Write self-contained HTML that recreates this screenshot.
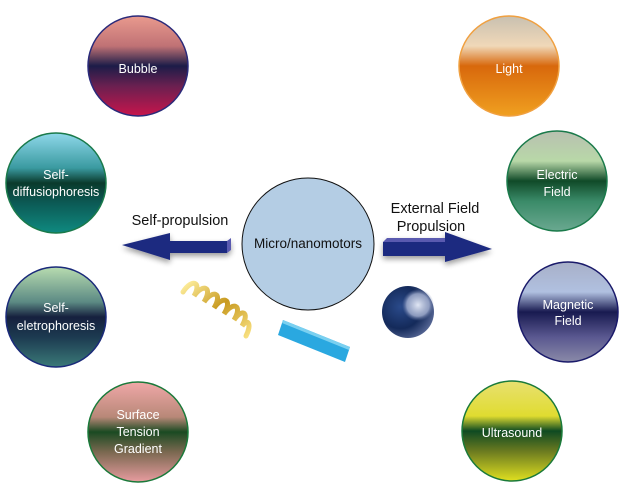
<!DOCTYPE html>
<html><head><meta charset="utf-8"><style>
html,body{margin:0;padding:0;background:#fff;}
svg{display:block;font-family:"Liberation Sans",sans-serif;}
</style></head><body>
<svg width="641" height="486" viewBox="0 0 641 486" xmlns="http://www.w3.org/2000/svg">
<defs>
<linearGradient id="gB" x1="0" y1="0" x2="0" y2="1"><stop offset="0" stop-color="#e99a8e"/><stop offset="0.3" stop-color="#c07275"/><stop offset="0.5" stop-color="#1c1c48"/><stop offset="0.7" stop-color="#6a2050"/><stop offset="1" stop-color="#c8154c"/></linearGradient>
<linearGradient id="gSD" x1="0" y1="0" x2="0" y2="1"><stop offset="0" stop-color="#8fd8ea"/><stop offset="0.35" stop-color="#3a9aa0"/><stop offset="0.5" stop-color="#0a3a2c"/><stop offset="0.7" stop-color="#0c5a55"/><stop offset="1" stop-color="#0f8a80"/></linearGradient>
<linearGradient id="gSE" x1="0" y1="0" x2="0" y2="1"><stop offset="0" stop-color="#b8dcb0"/><stop offset="0.35" stop-color="#5c8a84"/><stop offset="0.5" stop-color="#16203e"/><stop offset="0.7" stop-color="#1c3a50"/><stop offset="1" stop-color="#3a7a78"/></linearGradient>
<linearGradient id="gST" x1="0" y1="0" x2="0" y2="1"><stop offset="0" stop-color="#f0a8a8"/><stop offset="0.35" stop-color="#b88878"/><stop offset="0.5" stop-color="#1a4a22"/><stop offset="0.7" stop-color="#7a6850"/><stop offset="1" stop-color="#e89ca0"/></linearGradient>
<linearGradient id="gL" x1="0" y1="0" x2="0" y2="1"><stop offset="0" stop-color="#c8c0b0"/><stop offset="0.3" stop-color="#f0d8b8"/><stop offset="0.5" stop-color="#d8680c"/><stop offset="1" stop-color="#f0a020"/></linearGradient>
<linearGradient id="gE" x1="0" y1="0" x2="0" y2="1"><stop offset="0" stop-color="#b8c0b0"/><stop offset="0.3" stop-color="#b8d8a8"/><stop offset="0.5" stop-color="#104a28"/><stop offset="0.7" stop-color="#3a8a68"/><stop offset="1" stop-color="#6aa890"/></linearGradient>
<linearGradient id="gM" x1="0" y1="0" x2="0" y2="1"><stop offset="0" stop-color="#a8b0c8"/><stop offset="0.3" stop-color="#b0c0e0"/><stop offset="0.5" stop-color="#181a50"/><stop offset="0.75" stop-color="#5a5890"/><stop offset="1" stop-color="#8a8aa8"/></linearGradient>
<linearGradient id="gU" x1="0" y1="0" x2="0" y2="1"><stop offset="0" stop-color="#e8e070"/><stop offset="0.35" stop-color="#e0dc30"/><stop offset="0.5" stop-color="#0e4a22"/><stop offset="0.7" stop-color="#6a7a20"/><stop offset="1" stop-color="#e0e020"/></linearGradient>
<radialGradient id="gS" cx="0.35" cy="0.4" r="0.7"><stop offset="0" stop-color="#2a4a8a"/><stop offset="0.6" stop-color="#142a5a"/><stop offset="1" stop-color="#5a6a98"/></radialGradient>
<radialGradient id="gHl" cx="0.5" cy="0.5" r="0.5"><stop offset="0" stop-color="#e0e6f4"/><stop offset="0.7" stop-color="#a8b4d4" stop-opacity="0.8"/><stop offset="1" stop-color="#6a7aa8" stop-opacity="0"/></radialGradient>
<linearGradient id="gH" x1="0" y1="0" x2="1" y2="1"><stop offset="0" stop-color="#fff0a0"/><stop offset="0.5" stop-color="#c89a20"/><stop offset="1" stop-color="#f8e080"/></linearGradient>
<filter id="sh" x="-20%" y="-50%" width="140%" height="200%"><feGaussianBlur in="SourceAlpha" stdDeviation="3"/><feOffset dy="3"/><feComponentTransfer><feFuncA type="linear" slope="0.4"/></feComponentTransfer><feMerge><feMergeNode/><feMergeNode in="SourceGraphic"/></feMerge></filter>
</defs>

<g font-size="12.5" fill="#fff" text-anchor="middle">
<circle cx="138" cy="66" r="50" fill="url(#gB)" stroke="#2a2a7a" stroke-width="1.5"/>
<text x="138" y="73">Bubble</text>
<circle cx="56" cy="183" r="50" fill="url(#gSD)" stroke="#1a7a4a" stroke-width="1.5"/>
<text x="56" y="179">Self-</text><text x="56" y="196">diffusiophoresis</text>
<circle cx="56" cy="317" r="50" fill="url(#gSE)" stroke="#1a2a7a" stroke-width="1.5"/>
<text x="56" y="312">Self-</text><text x="56" y="330">eletrophoresis</text>
<circle cx="138" cy="432" r="50" fill="url(#gST)" stroke="#1a7a3a" stroke-width="1.5"/>
<text x="138" y="419">Surface</text><text x="138" y="436">Tension</text><text x="138" y="453">Gradient</text>
<circle cx="509" cy="66" r="50" fill="url(#gL)" stroke="#f0a040" stroke-width="1.5"/>
<text x="509" y="73">Light</text>
<circle cx="557" cy="181" r="50" fill="url(#gE)" stroke="#1a7a4a" stroke-width="1.5"/>
<text x="557" y="179">Electric</text><text x="557" y="196">Field</text>
<circle cx="568" cy="312" r="50" fill="url(#gM)" stroke="#1a1a6a" stroke-width="1.5"/>
<text x="568" y="309">Magnetic</text><text x="568" y="325">Field</text>
<circle cx="512" cy="431" r="50" fill="url(#gU)" stroke="#1a7a3a" stroke-width="1.5"/>
<text x="512" y="437">Ultrasound</text>
</g>

<circle cx="308" cy="244" r="66" fill="#b4cde4" stroke="#111" stroke-width="1"/>
<text x="308" y="248" font-size="13.5" text-anchor="middle" fill="#111">Micro/nanomotors</text>

<g filter="url(#sh)">
<polygon points="122,245 170,233 170,241 227,241 227,253 170,253 170,260" fill="#1e2a80"/>
<polygon points="227,241 231,238 231,250 227,253" fill="#5a5ab0"/>
<polygon points="383,242 445,242 445,232 492,249 445,262 445,256 383,256" fill="#1e2a80"/>
<polygon points="383,242 387,238 445,238 445,242" fill="#5a5ab0"/>
</g>
<text x="180" y="225" font-size="14.5" text-anchor="middle" fill="#111">Self-propulsion</text>
<text x="435" y="213" font-size="14.5" text-anchor="middle" fill="#111">External Field</text>
<text x="431" y="231" font-size="14.5" text-anchor="middle" fill="#111">Propulsion</text>

<path d="M183,292 C192,278 202,282 194,296 C203,283 213,287 204,302 C213,289 223,293 214,308 C223,295 233,299 224,314 C233,301 243,305 234,320 C242,308 250,312 242,326 C248,318 252,324 246,336" fill="none" stroke="url(#gH)" stroke-width="5" stroke-linecap="round"/>

<polygon points="283,320 350,347 345,362 278,335" fill="#2aa8e0"/>
<polygon points="283,320 350,347 349,350 282,323" fill="#7ad0f0"/>

<circle cx="408" cy="312" r="26" fill="url(#gS)"/>
<circle cx="418" cy="305" r="16" fill="url(#gHl)"/>
</svg>
</body></html>
